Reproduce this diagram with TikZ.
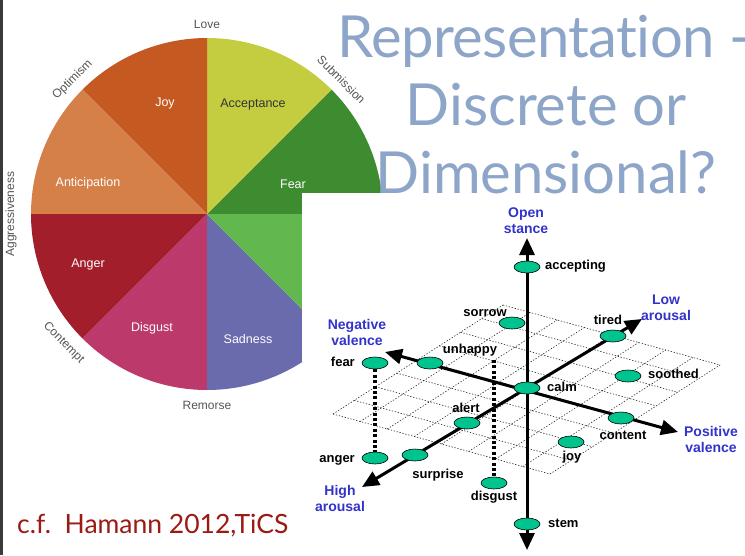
\documentclass[tikz,border=0pt]{standalone}
\usepackage{fontspec}
\setmainfont{Liberation Sans}
\newfontfamily\titlefont[Ligatures={NoCommon,NoDiscretionary}]{Lato}
\usetikzlibrary{arrows.meta,shapes.geometric,calc}

% wheel colours
\definecolor{joyc}{RGB}{197,89,34}
\definecolor{acceptc}{RGB}{196,205,64}
\definecolor{fearc}{RGB}{62,140,48}
\definecolor{lightgreenc}{RGB}{98,184,78}
\definecolor{sadc}{RGB}{106,107,172}
\definecolor{disgustc}{RGB}{188,57,108}
\definecolor{angerc}{RGB}{161,30,42}
\definecolor{anticipc}{RGB}{214,128,73}
\definecolor{wheelgray}{RGB}{85,85,85}
% slide colours
\definecolor{titleblue}{RGB}{140,165,200}
\definecolor{citered}{RGB}{155,27,20}
\definecolor{edgestrip}{RGB}{58,58,58}
% valence/arousal chart colours
\definecolor{axisblue}{RGB}{51,51,204}
\definecolor{blobgreen}{RGB}{0,196,142}

\begin{document}
\begin{tikzpicture}[x=1pt,y=1pt,
  wheeltxt/.style={font=\fontsize{12}{14}\selectfont, text=wheelgray, inner sep=0pt},
  sectortxt/.style={font=\fontsize{12.5}{14}\selectfont, text=white, inner sep=0pt},
  blob/.style={ellipse, draw=black, line width=0.6pt, fill=blobgreen,
               minimum width=26pt, minimum height=12pt, inner sep=0pt},
  word/.style={font=\bfseries\fontsize{13}{15}\selectfont, inner sep=0pt,
               text height=9.5pt, text depth=2.5pt},
  axislabel/.style={font=\bfseries\fontsize{14}{16}\selectfont, text=axisblue,
                    align=center, inner sep=0pt},
  axisline/.style={line width=3pt,
                   {Triangle[length=17pt,width=15pt]}-{Triangle[length=17pt,width=15pt]}},
  gridline/.style={line width=0.6pt, dash pattern=on 1.3pt off 1.7pt, black!85},
  dropline/.style={line width=3.4pt, dash pattern=on 3pt off 2.4pt},
  titletxt/.style={font=\titlefont\fontsize{58}{68}\selectfont, text=titleblue, inner sep=0pt},
]
\useasboundingbox (0,0) rectangle (745,-555);
\clip (0,0) rectangle (745,-555);
\fill[white] (0,0) rectangle (745,-555);
\fill[edgestrip] (0,0) rectangle (2.5,-555);

% ---------- Plutchik wheel ----------
\coordinate (C) at (207,-214);
\foreach \s/\c in {0/fearc,45/acceptc,90/joyc,135/anticipc,180/angerc,
                   225/disgustc,270/sadc,315/lightgreenc}{
  \fill[\c] (C) -- ++(\s:176) arc[start angle=\s, end angle=\s+45, radius=176] -- cycle;
}
\node[sectortxt] (joy-s) at (165,-103) {Joy};
\node[sectortxt, text=black!80] (accept-s) at (253,-104) {Acceptance};
\node[sectortxt] (fear-s) at (293,-184) {Fear};
\node[sectortxt] (anticip-s) at (88,-183) {Anticipation};
\node[sectortxt] (anger-s) at (88,-264) {Anger};
\node[sectortxt] (disgust-s) at (152,-328) {Disgust};
\node[sectortxt] (sad-s) at (248,-339) {Sadness};

\node[wheeltxt] (love) at ($(C)+(90:190)$) {Love};
\node[wheeltxt, rotate=-45] (submission) at ($(C)+(45:190)$) {Submission};
\node[wheeltxt, rotate=45] (optimism) at ($(C)+(135:190)$) {Optimism};
\node[wheeltxt, rotate=90] (aggress) at ($(C)+(180:196)$) {Aggressiveness};
\node[wheeltxt, rotate=-45] (contempt) at ($(C)+(222:193)$) {Contempt};
\node[wheeltxt] (remorse) at ($(C)+(270:191)$) {Remorse};

% ---------- panel of the dimensional chart ----------
\fill[white] (302,-193) rectangle (745,-555);

% ---------- title and citation ----------
\node[titletxt, anchor=base west] (title1) at (337,-57)
  {\addfontfeature{LetterSpace=-1}Representation -};
\node[titletxt, anchor=base] (title2) at (546,-125) {Discrete or};
\node[titletxt, anchor=base] (title3) at (546,-193) {Dimensional?};
\node[font=\titlefont\fontsize{26.5}{30}\selectfont, text=citered, anchor=base west, inner sep=0pt]
  (cite) at (17,-533) {c.f.\ \ Hamann 2012,TiCS};

% ---------- dotted ground plane ----------
\coordinate (L) at (333,-414);
\coordinate (B) at (550,-474);
\coordinate (R) at (720,-365);
\coordinate (T) at (503,-305);
\foreach \i in {0,...,8}{
  \draw[gridline] ($(L)!{\i/8}!(B)$) -- ($(T)!{\i/8}!(R)$);
  \draw[gridline] ($(L)!{\i/8}!(T)$) -- ($(B)!{\i/8}!(R)$);
}

% ---------- axes ----------
\coordinate (vtop) at (527,-238);
\coordinate (vbot) at (527,-550);
\coordinate (negv) at (385,-352);
\coordinate (posv) at (678,-432);
\coordinate (higha) at (362,-487);
\coordinate (lowa) at (642,-319);
\draw[axisline] (vbot) -- (vtop);
\draw[axisline] (negv) -- (posv);
\draw[axisline] (higha) -- (lowa);

% ---------- emotion points ----------
\node[blob] (accepting) at (527,-267) {};
\node[blob] (sorrow) at (512,-323) {};
\node[blob] (tired) at (613,-336) {};
\node[blob] (fear) at (375,-363) {};
\node[blob] (unhappy) at (430,-363) {};
\node[blob] (soothed) at (628,-376) {};
\node[blob] (calm) at (527,-388) {};
\node[blob] (content) at (621,-418) {};
\node[blob] (alert) at (467,-423) {};
\node[blob] (joy) at (571,-442) {};
\node[blob] (surprise) at (415,-455) {};
\node[blob] (anger) at (375,-458) {};
\node[blob] (disgust) at (494,-483) {};
\node[blob] (stem) at (527,-524) {};

\coordinate (droptop) at (494,-360);
\draw[dropline] (fear.south) -- (anger.north);
\draw[dropline] (droptop) -- (disgust.north);

% ---------- point labels ----------
\node[word, anchor=west] (accepting-t) at (545,-266) {accepting};
\node[word] (sorrow-t) at (485,-313) {sorrow};
\node[word] (tired-t) at (608,-321) {tired};
\node[word] (unhappy-t) at (470,-350) {unhappy};
\node[word, anchor=east] (fear-t) at (355,-363) {fear};
\node[word, anchor=west] (soothed-t) at (648,-375) {soothed};
\node[word, anchor=west] (calm-t) at (547,-388) {calm};
\node[word] (alert-t) at (466,-409) {alert};
\node[word] (content-t) at (623,-436) {content};
\node[word] (joy-t) at (572,-457) {joy};
\node[word, anchor=east] (anger-t) at (355,-459) {anger};
\node[word] (surprise-t) at (438,-475) {surprise};
\node[word] (disgust-t) at (494,-497) {disgust};
\node[word, anchor=west] (stem-t) at (548,-524) {stem};

% ---------- axis labels ----------
\node[axislabel] (open) at (526,-221) {Open\\stance};
\node[axislabel] (negval) at (357,-332) {Negative\\valence};
\node[axislabel] (lowar) at (666,-308) {Low\\arousal};
\node[axislabel] (posval) at (711,-439) {Positive\\valence};
\node[axislabel] (highar) at (340,-498) {High\\arousal};
\end{tikzpicture}
\end{document}
